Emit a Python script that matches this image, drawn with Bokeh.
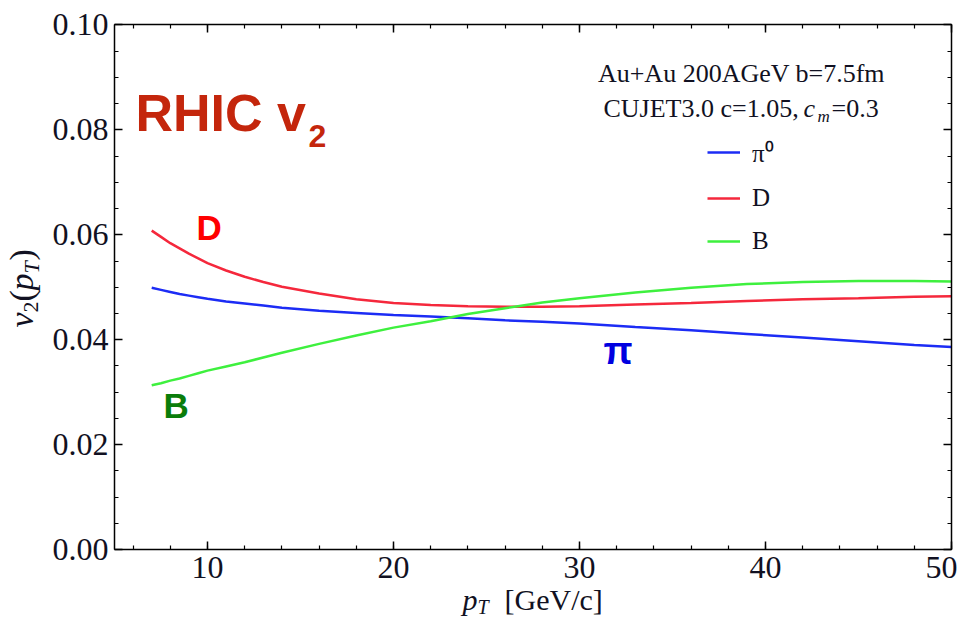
from math import pi

from bokeh.plotting import figure
from bokeh.models import (Label, Legend, LegendItem, LinearAxis, Range1d,
                          SingleIntervalTicker, NumeralTickFormatter, CustomJSTickFormatter)
from bokeh.embed import file_html
from bokeh.resources import INLINE

# values
pt = [7, 7.5, 8, 8.5, 9, 9.5, 10, 11, 12, 13, 14, 16, 18, 20, 22, 24, 26, 28, 30, 33, 36, 39, 42, 45, 48, 50]
v2_pi0 = [0.0499, 0.0495, 0.0491, 0.0487, 0.0484, 0.0481, 0.0478, 0.0473, 0.0469, 0.0465,
          0.0461, 0.0455, 0.0451, 0.0447, 0.0444, 0.0441, 0.0437, 0.0434, 0.0431, 0.0424,
          0.0418, 0.0411, 0.0404, 0.0397, 0.0390, 0.0386]
v2_D = [0.0608, 0.0596, 0.0584, 0.0574, 0.0564, 0.0555, 0.0546, 0.0532, 0.0520, 0.0510,
        0.0501, 0.0488, 0.0477, 0.0470, 0.0466, 0.0464, 0.0463, 0.0463, 0.0464, 0.0467,
        0.0470, 0.0474, 0.0477, 0.0479, 0.0482, 0.0483]
v2_B = [0.0313, 0.0317, 0.0322, 0.0326, 0.0331, 0.0336, 0.0341, 0.0349, 0.0357, 0.0366,
        0.0375, 0.0392, 0.0408, 0.0423, 0.0435, 0.0449, 0.0460, 0.0471, 0.0479, 0.0490,
        0.0499, 0.0506, 0.0510, 0.0512, 0.0512, 0.0511]

serif = "Liberation Serif"
sans = "Liberation Sans"
ink = "#111122"

# frame fills the canvas, the box is made of four axes at fixed places
p = figure(width=957, height=620, x_range=Range1d(-1.129, 50.323), y_range=Range1d(-0.013537, 0.104671),
           output_backend="svg", toolbar_location=None,
           x_axis_location=None, y_axis_location=None,
           min_border_left=0, min_border_right=0, min_border_top=0, min_border_bottom=0)
p.grid.visible = False
p.outline_line_color = None


def style_axis(ax, ticker, show_labels):
    ax.ticker = ticker
    ax.axis_line_color = "black"
    ax.axis_line_width = 1.5
    ax.major_tick_in = 8
    ax.major_tick_out = 0
    ax.minor_tick_in = 4
    ax.minor_tick_out = 0
    ax.major_tick_line_width = 1.5
    ax.minor_tick_line_width = 1.2
    ax.major_tick_line_color = "black"
    ax.minor_tick_line_color = "black"
    ax.major_label_text_font = serif
    ax.major_label_text_color = ink
    ax.major_label_text_font_size = "32px"
    ax.major_label_standoff = 6
    if not show_labels:
        ax.formatter = CustomJSTickFormatter(code="return ''")


xt = SingleIntervalTicker(interval=10, num_minor_ticks=5)
yt = SingleIntervalTicker(interval=0.02, num_minor_ticks=4)

bottom = LinearAxis(fixed_location=0, bounds=(5, 50))
top = LinearAxis(fixed_location=0.1, bounds=(5, 50))
left = LinearAxis(fixed_location=5, bounds=(0, 0.1))
right = LinearAxis(fixed_location=50, bounds=(0, 0.1))
style_axis(bottom, xt, True)
style_axis(top, xt, False)
style_axis(left, yt, True)
style_axis(right, yt, False)
bottom.major_label_standoff = 8
left.formatter = NumeralTickFormatter(format="0.00")
p.add_layout(bottom, "below")
p.add_layout(top, "above")
p.add_layout(left, "left")
p.add_layout(right, "right")

r_pi = p.line(pt, v2_pi0, line_color="#1c2cf5", line_width=2.5)
r_D = p.line(pt, v2_D, line_color="#f5283c", line_width=2.5)
r_B = p.line(pt, v2_B, line_color="#3ef03e", line_width=2.5)

legend = Legend(items=[LegendItem(label="π⁰", renderers=[r_pi]),
                       LegendItem(label="D", renderers=[r_D]),
                       LegendItem(label="B", renderers=[r_B])],
                location=(707, 365), padding=0, margin=0, spacing=15,
                glyph_width=33, glyph_height=20, label_height=20, label_standoff=12,
                border_line_color=None, background_fill_alpha=0,
                label_text_font=serif, label_text_font_size="25px", label_text_color=ink)
p.add_layout(legend)


def add_label(x, y, text, size, x_offset=0, y_offset=0, angle=0, **kw):
    # the drawn baseline sits about 0.37 em under the anchor, lift it back
    lift = 0.37 * size
    if angle:
        x_offset -= lift
    else:
        y_offset += lift
    p.add_layout(Label(x=x, y=y, text=text, text_baseline="alphabetic", angle=angle,
                       x_offset=x_offset, y_offset=y_offset,
                       text_font_size=f"{size}px", **kw))


# annotation block, top right
add_label(38.71, 0.08885, "Au+Au 200AGeV b=7.5fm", 26, text_align="center",
          text_font=serif, text_color=ink)
cx, cy = 31.29, 0.08217
add_label(cx, cy, "CUJET3.0 c=1.05, ", 26, text_font=serif, text_color=ink)
add_label(cx, cy, "c", 26, x_offset=200, text_font=serif, text_font_style="italic", text_color=ink)
add_label(cx, cy, "m", 17, x_offset=214, y_offset=-4, text_font=serif, text_font_style="italic",
          text_color=ink)
add_label(cx, cy, "=0.3", 26, x_offset=228, text_font=serif, text_color=ink)

# big labels inside the frame
add_label(6.13, 0.0795, "RHIC v", 52, text_font=sans, text_font_style="bold", text_color="#c4260c")
add_label(15.43, 0.07664, "2", 32, text_font=sans, text_font_style="bold", text_color="#c4260c")
add_label(9.41, 0.05891, "D", 35, text_font=sans, text_font_style="bold", text_color="#ff0000")
add_label(7.63, 0.02498, "B", 35, text_font=sans, text_font_style="bold", text_color="#0a7d0a")
add_label(31.29, 0.03508, "π", 38, text_font=sans, text_font_style="bold", text_color="#0000e0")

# x axis title: p_T [GeV/c]
tx, ty = 23.71, -0.01163
add_label(tx, ty, "p", 30, text_font=serif, text_font_style="italic", text_color=ink)
add_label(tx, ty, "T", 20, x_offset=15, y_offset=-4, text_font=serif, text_font_style="italic",
          text_color=ink)
add_label(tx, ty, "[GeV/c]", 30, x_offset=42, text_font=serif, text_color=ink)

# y axis title: v_2(p_T), rotated
yx, yy = 0.699, 0.04233
rot = dict(angle=pi / 2, text_font=serif, text_color=ink)
add_label(yx, yy, "v", 34, text_font_style="italic", **rot)
add_label(yx, yy, "2", 22, x_offset=5, y_offset=15, **rot)
add_label(yx, yy, "(", 34, y_offset=26, **rot)
add_label(yx, yy, "p", 34, y_offset=37, text_font_style="italic", **rot)
add_label(yx, yy, "T", 22, x_offset=5, y_offset=54, text_font_style="italic", **rot)
add_label(yx, yy, ")", 34, y_offset=67, **rot)

open("out.html", "w").write(file_html(p, INLINE))
